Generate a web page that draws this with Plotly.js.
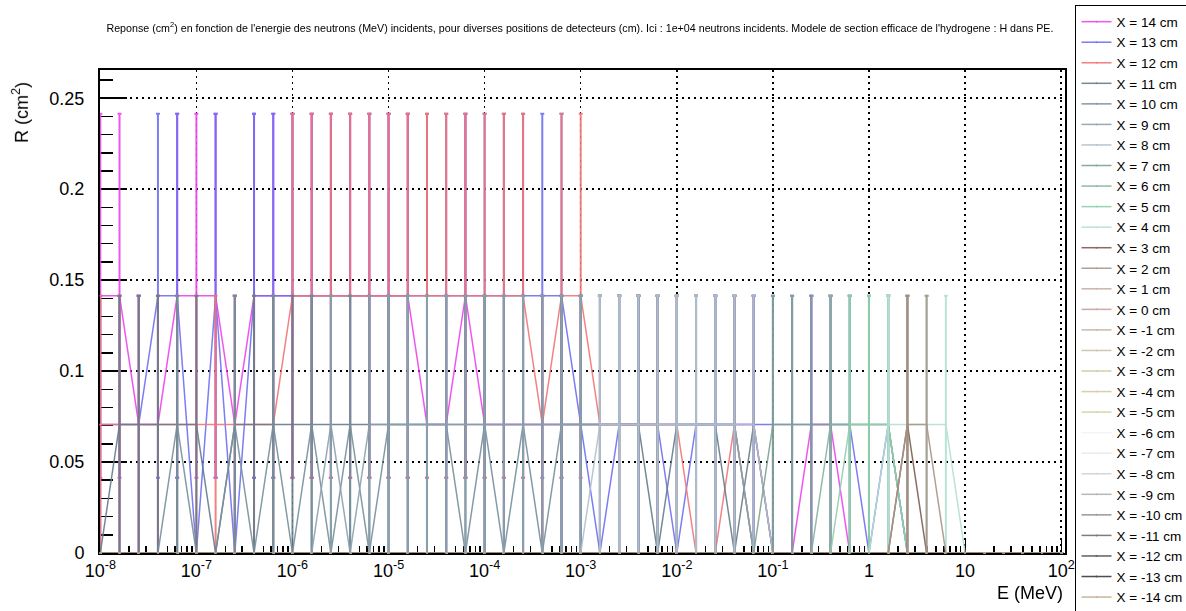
<!DOCTYPE html>
<html>
<head>
<meta charset="utf-8">
<script src="https://cdn.plot.ly/plotly-3.0.1.min.js"></script>
<style>html,body{margin:0;padding:0;background:#fff;}#chart{width:1186px;height:611px;}</style>
</head>
<body>
<div id="chart"></div>
<script>
// Energy grid (MeV), five points per decade, 1e-8 .. 1e2
const energies = [
  1.000e-8,1.585e-8,2.512e-8,3.981e-8,6.310e-8,
  1.000e-7,1.585e-7,2.512e-7,3.981e-7,6.310e-7,
  1.000e-6,1.585e-6,2.512e-6,3.981e-6,6.310e-6,
  1.000e-5,1.585e-5,2.512e-5,3.981e-5,6.310e-5,
  1.000e-4,1.585e-4,2.512e-4,3.981e-4,6.310e-4,
  1.000e-3,1.585e-3,2.512e-3,3.981e-3,6.310e-3,
  1.000e-2,1.585e-2,2.512e-2,3.981e-2,6.310e-2,
  1.000e-1,1.585e-1,2.512e-1,3.981e-1,6.310e-1,
  1.000,1.585,2.512,3.981,6.310,
  10.00,15.85,25.12,39.81,63.10,
  100.0
];

// Response levels (cm^2)
const A = 0.0707, B = 0.1414;
// Error bar half-lengths read for each level
const errHalf = {"0.1414": 0.1, "0.0707": 0.0707, "0": 0};

const x14 = [B,B,A,A,B,B,B,A,B,B, B,B,B,B,B,B,B,A,A,B, A,A,A,A,A,A,A,A,A,A, A,A,A,A,A,0,0,A,A,0, 0,0,0,0,0,0,0,0,0,0, 0];
const x13 = [A,A,A,B,B,0,B,0,B,B, B,B,B,B,B,B,B,B,B,B, B,B,B,B,B,A,0,A,A,A, 0,A,A,A,A,A,A,A,A,A, 0,A,0,0,0,0,0,0,0,0, 0];
const x12 = [A,A,A,A,A,A,A,A,A,A, B,B,B,B,B,B,B,B,B,B, B,B,B,A,B,B,A,A,A,A, A,0,0,A,0,0,0,0,0,0, 0,0,0,0,0,0,0,0,0,0, 0];
const x11 = [0,A,A,A,A,A,0,A,A,A, A,A,A,A,A,A,A,A,A,A, A,A,A,A,A,A,A,A,A,0, A,A,A,0,A,0,0,0,0,0, 0,0,0,0,0,0,0,0,0,0, 0];
const x10 = [0,0,0,0,A,0,0,A,0,A, 0,A,0,A,0,A,A,A,A,0, A,0,A,0,A,A,A,A,A,A, A,A,A,A,0,0,0,0,0,0, 0,0,0,0,0,0,0,0,0,0, 0];
const x9  = [0,0,0,0,0,0,0,0,0,0, 0,0,A,0,A,A,A,A,A,A, A,A,A,A,A,A,A,A,A,A, A,A,A,A,0,0,0,0,0,0, 0,0,0,0,0,0,0,0,0,0, 0];
const x8  = [0,0,0,0,0,0,0,0,0,0, 0,0,0,0,0,0,0,0,0,0, 0,0,0,0,0,0,A,A,A,A, A,A,A,A,A,0,0,0,0,0, 0,0,0,0,0,0,0,0,0,0, 0];
const x7  = [0,0,0,0,0,0,0,0,0,0, 0,0,0,0,0,0,0,0,0,0, 0,0,0,0,0,0,0,0,0,0, 0,0,0,0,0,A,A,A,A,A, A,A,0,0,0,0,0,0,0,0, 0];
const x6  = [0,0,0,0,0,0,0,0,0,0, 0,0,0,0,0,0,0,0,0,0, 0,0,0,0,0,0,0,0,0,0, 0,0,0,0,0,0,0,0,A,A, A,A,0,0,0,0,0,0,0,0, 0];
const x5  = [0,0,0,0,0,0,0,0,0,0, 0,0,0,0,0,0,0,0,0,0, 0,0,0,0,0,0,0,0,0,0, 0,0,0,0,0,0,0,0,0,A, A,A,0,0,0,0,0,0,0,0, 0];
const x4  = [0,0,0,0,0,0,0,0,0,0, 0,0,0,0,0,0,0,0,0,0, 0,0,0,0,0,0,0,0,0,0, 0,0,0,0,0,0,0,0,0,0, 0,A,A,A,A,0,0,0,0,0, 0];
const x3  = [0,0,0,0,0,0,0,0,0,0, 0,0,0,0,0,0,0,0,0,0, 0,0,0,0,0,0,0,0,0,0, 0,0,0,0,0,0,0,0,0,0, 0,0,A,0,0,0,0,0,0,0, 0];
const x2  = [0,0,0,0,0,0,0,0,0,0, 0,0,0,0,0,0,0,0,0,0, 0,0,0,0,0,0,0,0,0,0, 0,0,0,0,0,0,0,0,0,0, 0,0,A,A,0,0,0,0,0,0, 0];
// Positions X = 1 .. -14 cm: no counts visible anywhere
const xNone = [0,0,0,0,0,0,0,0,0,0, 0,0,0,0,0,0,0,0,0,0, 0,0,0,0,0,0,0,0,0,0, 0,0,0,0,0,0,0,0,0,0, 0,0,0,0,0,0,0,0,0,0, 0];

const positions = [14,13,12,11,10,9,8,7,6,5,4,3,2,1,0,-1,-2,-3,-4,-5,-6,-7,-8,-9,-10,-11,-12,-13,-14];
const seriesValues = [x14,x13,x12,x11,x10,x9,x8,x7,x6,x5,x4,x3,x2,
  xNone,xNone,xNone,xNone,xNone,xNone,xNone,xNone,xNone,xNone,xNone,xNone,xNone,xNone,xNone,xNone];
const colors = ['#ee44ee','#6e6ef2','#f27474','#657d8b','#76909c','#8ba2ae','#b0c0cb',
  '#7fa38d','#86b39d','#8fcfae','#b3e0d0','#7d5c4f','#a8958a','#c4ad9f','#c3a3a3',
  '#c2b4a2','#c9c3aa','#cbc9a9','#d2cba3','#cfd3a3','#f3f3f3','#e9e9e9','#d2d2d2',
  '#b0b0b0','#8f8f8f','#6f6f6f','#505050','#3a3a3a','#bfae96'];

const xTickVals = [1e-8,1e-7,1e-6,1e-5,1e-4,1e-3,1e-2,1e-1,1,10,100];
const xTickText = ['10<sup>-8</sup>','10<sup>-7</sup>','10<sup>-6</sup>','10<sup>-5</sup>','10<sup>-4</sup>',
  '10<sup>-3</sup>','10<sup>-2</sup>','10<sup>-1</sup>','1','10','10<sup>2</sup>'];
// minor tick marks at 2..9 of every decade (axis decoration)
const xMinorVals = [];
xTickVals.forEach(d => { for (let m = 2; m <= 9; m++) xMinorVals.push(d * m); });

const FONT = 'Liberation Sans, Arial, Helvetica, sans-serif';

const traces = positions.map((p, i) => {
  const vals = seriesValues[i];
  return {
    type: 'scatter',
    mode: 'lines+markers',
    name: 'X = ' + p + ' cm',
    x: energies,
    y: vals,
    cliponaxis: false,
    line: {color: colors[i], width: 1.5},
    marker: {color: colors[i], size: 2},
    opacity: 0.9,
    error_y: {
      type: 'data', symmetric: true,
      array: vals.map(v => errHalf[String(v)]),
      color: colors[i], thickness: 2, width: 2
    },
    hoverinfo: 'x+y+name'
  };
});

const layout = {
  width: 1186, height: 611,
  margin: {l: 100, r: 121, t: 70, b: 58, pad: 0, autoexpand: false},
  paper_bgcolor: '#ffffff', plot_bgcolor: '#ffffff',
  font: {family: FONT, color: '#000000'},
  showlegend: true,
  title: {
    text: 'Reponse (cm<sup>2</sup>) en fonction de l\'energie des neutrons (MeV) incidents, pour diverses positions de detecteurs (cm). Ici : 1e+04 neutrons incidents. Modele de section efficace de l\'hydrogene : H dans PE.',
    font: {family: FONT, size: 10.7, color: '#000000'},
    xref: 'container', x: 0.489, xanchor: 'center',
    yref: 'container', y: 0.954, yanchor: 'middle'
  },
  xaxis: {
    type: 'log', range: [-8.003, 2.04], automargin: false,
    tickvals: xTickVals, ticktext: xTickText,
    ticks: 'inside', ticklen: 14, tickwidth: 1, tickcolor: '#000',
    showline: true, linecolor: '#000', linewidth: 2, mirror: true,
    showgrid: true, gridcolor: '#000', gridwidth: 1.5, griddash: '2px,4px',
    zeroline: false,
    tickfont: {family: FONT, size: 18, color: '#000'},
    minor: {tickmode: 'array', tickvals: xMinorVals, ticks: 'inside', ticklen: 7, tickwidth: 1.5, tickcolor: '#000', showgrid: false},
    layer: 'below traces'
  },
  yaxis: {
    range: [0, 0.2655], dtick: 0.05, tick0: 0, automargin: false,
    ticks: 'inside', ticklen: 27, tickwidth: 1.5, tickcolor: '#000',
    showline: true, linecolor: '#000', linewidth: 2, mirror: true,
    showgrid: true, gridcolor: '#000', gridwidth: 1.5, griddash: '2px,4px',
    zeroline: false,
    tickfont: {family: FONT, size: 18, color: '#000'},
    ticklabelstandoff: 10,
    minor: {dtick: 0.01, ticks: 'inside', ticklen: 13, tickwidth: 1.5, tickcolor: '#000', showgrid: false},
    layer: 'below traces'
  },
  legend: {
    xref: 'container', yref: 'container',
    x: 0.9064, xanchor: 'left', y: 0.992, yanchor: 'top',
    maxheight: 900,
    bgcolor: '#ffffff', bordercolor: '#000', borderwidth: 1.5,
    font: {family: FONT, size: 13.5, color: '#000'},
    itemwidth: 30, tracegroupgap: 0
  },
  annotations: [
    {text: 'R (cm<sup>2</sup>)', textangle: -90, xref: 'paper', yref: 'paper',
     x: -0.083, y: 0.913, xanchor: 'center', yanchor: 'middle', showarrow: false,
     font: {family: FONT, size: 18, color: '#000'}},
    {text: 'E (MeV)', xref: 'paper', yref: 'paper', x: 1, y: -0.083,
     xanchor: 'right', yanchor: 'middle', showarrow: false,
     font: {family: FONT, size: 18, color: '#000'}}
  ]
};

Plotly.newPlot('chart', traces, layout, {displayModeBar: false, staticPlot: true});
</script>
</body>
</html>
